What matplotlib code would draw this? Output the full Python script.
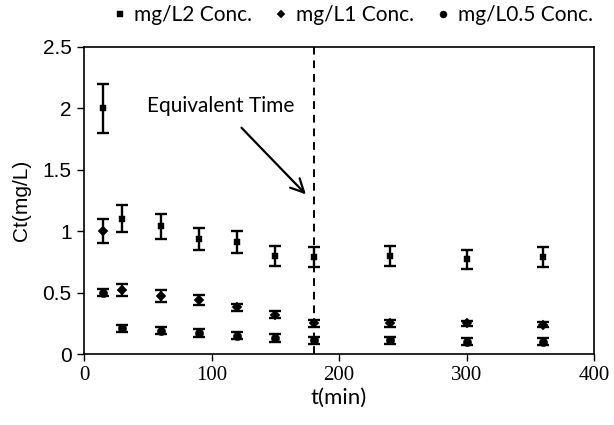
import matplotlib
matplotlib.use("Agg")
import matplotlib.pyplot as plt
import numpy as np

t = [15, 30, 60, 90, 120, 150, 180, 240, 300, 360]
c2 = [2.0, 1.10, 1.04, 0.94, 0.91, 0.80, 0.79, 0.80, 0.77, 0.79]
e2 = [0.20, 0.11, 0.10, 0.09, 0.09, 0.08, 0.08, 0.08, 0.08, 0.08]
c1 = [1.0, 0.52, 0.47, 0.44, 0.38, 0.32, 0.25, 0.25, 0.25, 0.24]
e1 = [0.10, 0.05, 0.05, 0.04, 0.03, 0.03, 0.03, 0.03, 0.02, 0.02]
c05 = [0.50, 0.21, 0.19, 0.17, 0.15, 0.13, 0.11, 0.11, 0.10, 0.10]
e05 = [0.03, 0.03, 0.03, 0.03, 0.03, 0.03, 0.03, 0.03, 0.03, 0.03]
labels = ["mg/L2 Conc.", "mg/L1 Conc.", "mg/L0.5 Conc."]
xticks = [0, 100, 200, 300, 400]
yticks = [0, 0.5, 1, 1.5, 2, 2.5]
ytick_labels = ["0", "0.5", "1", "1.5", "2", "2.5"]

fig = plt.figure(figsize=(6.14, 4.25), dpi=100)
ax = fig.add_axes([84/614, 1-354/425, (594-84)/614, (354-47)/425])

series = [(c2, e2, "s", 4.8), (c1, e1, "D", 5.2), (c05, e05, "o", 6.0)]
handles = []
for (c, e, m, ms), lab in zip(series, labels):
    h = ax.errorbar(t, c, yerr=e, fmt=m, color="black", ms=ms,
                    mfc="black", mec="black",
                    ecolor="black", elinewidth=1.7, capsize=4.5, capthick=1.7,
                    label=lab, zorder=3)
    h[0].set_markeredgewidth(0.3)
    handles.append(h)

ax.axvline(180, color="black", linestyle=(0, (4, 3)), linewidth=1.4, zorder=2)
ax.annotate("Equivalent Time", xy=(174, 1.30), xytext=(107, 2.02),
            ha="center", va="center", fontsize=15, family=["Lato", "DejaVu Sans"],
            arrowprops=dict(arrowstyle="->", color="black", lw=1.6,
                            mutation_scale=24, shrinkA=9, shrinkB=0))

ax.set_xlim(0, 400)
ax.set_ylim(0, 2.5)
ax.set_xticks(xticks)
ax.set_xticklabels([str(v) for v in xticks], family=["Liberation Serif"], fontsize=15)
ax.set_yticks(yticks)
ax.set_yticklabels(ytick_labels, family=["Liberation Sans"], fontsize=15)
ax.tick_params(axis="both", direction="out", length=5, width=1, pad=4)
for s in ax.spines.values():
    s.set_linewidth(1.2)

ax.set_xlabel("t(min)", family=["Lato", "DejaVu Sans"], fontsize=16, labelpad=2)
ax.set_ylabel("Ct(mg/L)", family=["Liberation Sans"], fontsize=15, labelpad=8)

leg = fig.legend([h[0] for h in handles], labels, loc="center",
                 bbox_to_anchor=(353/614, 1-15/425), ncol=3, frameon=False,
                 prop={"family": ["Lato", "DejaVu Sans"], "size": 15},
                 handlelength=0.6, handletextpad=0.4, columnspacing=1.1,
                 markerscale=0.85)

fig.savefig("out.png", dpi=100)
